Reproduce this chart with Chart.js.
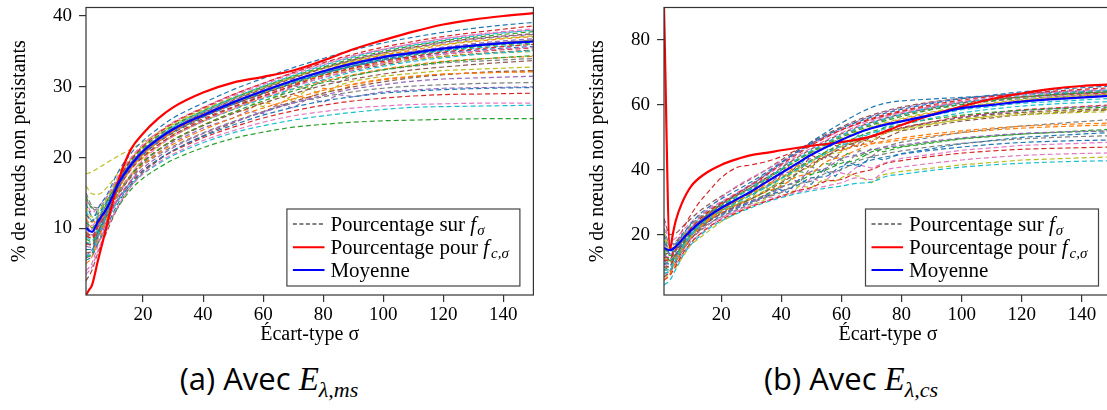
<!DOCTYPE html>
<html>
<head>
<meta charset="utf-8">
<script src="https://cdn.jsdelivr.net/npm/chart.js@4.4.1/dist/chart.umd.min.js"></script>
<style>
  html, body { margin: 0; padding: 0; background: #fff; width: 1107px; height: 410px; overflow: hidden; position: relative; }
  #wa { position: absolute; left: 0; top: 0; width: 560px; height: 350px; }
  #wb { position: absolute; left: 560px; top: 0; width: 580px; height: 350px; }
  .cap { position: absolute; top: 363px; font-family: "Open Sans", sans-serif; font-size: 31px; line-height: 31px; color: #000; white-space: nowrap; transform: translateX(-50%); }
  .cap i { font-family: "Liberation Serif", serif; font-size: 33px; }
  .cap sub { font-family: "Liberation Serif", serif; font-style: italic; font-size: 22px; vertical-align: -7px; }
</style>
</head>
<body>
<div id="wa"><canvas id="chartA"></canvas></div>
<div id="wb"><canvas id="chartB"></canvas></div>
<div class="cap" style="left:269px">(a) Avec <i>E</i><sub>λ,ms</sub></div>
<div class="cap" style="left:851px">(b) Avec <i>E</i><sub>λ,cs</sub></div>
<script>
// tab10 cycle used by the dashed runs
const palette = ['#1f77b4', '#ff7f0e', '#2ca02c', '#d62728', '#9467bd', '#8c564b', '#e377c2', '#7f7f7f', '#bcbd22', '#17becf'];

const xTicks = [20, 40, 60, 80, 100, 120, 140];
const yTicksA = [10, 20, 30, 40];
const yTicksB = [20, 40, 60, 80];

// ---- (a) E_lambda,ms ----
const xA = [1, 3, 5, 8, 12, 16, 20, 25, 30, 40, 50, 60, 70, 80, 90, 100, 110, 120, 135, 150];
const meanA = [10.1, 9.5, 11.0, 12.9, 16.5, 19.0, 20.9, 22.6, 24.0, 26.0, 27.8, 29.4, 30.9, 32.2, 33.3, 34.2, 34.8, 35.4, 36.0, 36.4];
const redXA = [1, 2, 3, 5, 8, 12, 16, 20, 25, 30, 40, 50, 60, 70, 80, 90, 100, 110, 120, 130, 140, 150];
const redA = [0.6, 1.3, 2.0, 5.5, 10.5, 17.0, 21.2, 23.4, 25.5, 27.1, 29.2, 30.6, 31.4, 32.3, 33.7, 35.3, 36.6, 37.8, 38.8, 39.5, 40.0, 40.4];
const dashedA = [
  [12.0, 11.0, 12.8, 14.8, 18.2, 20.6, 22.4, 24.1, 25.6, 27.7, 29.6, 31.2, 32.7, 34.0, 35.2, 36.2, 37.0, 37.7, 38.5, 39.1],
  [9.0, 8.6, 10.5, 13.0, 17.0, 19.7, 21.6, 23.4, 24.9, 27.0, 28.9, 30.5, 32.0, 33.4, 34.6, 35.6, 36.4, 37.1, 37.9, 38.6],
  [14.0, 12.2, 13.0, 14.6, 17.6, 20.0, 21.9, 23.6, 25.0, 27.1, 28.9, 30.5, 32.0, 33.3, 34.4, 35.3, 36.1, 36.8, 37.6, 38.2],
  [6.0, 6.6, 9.0, 12.0, 16.2, 19.0, 21.0, 22.8, 24.3, 26.5, 28.4, 30.1, 31.6, 33.0, 34.2, 35.2, 35.9, 36.6, 37.4, 38.0],
  [11.0, 10.1, 11.4, 13.5, 17.0, 19.6, 21.4, 23.1, 24.5, 26.6, 28.4, 30.0, 31.5, 32.8, 34.0, 35.0, 35.8, 36.5, 37.2, 37.8],
  [8.0, 7.6, 9.6, 12.3, 16.4, 19.1, 21.0, 22.7, 24.1, 26.3, 28.1, 29.7, 31.2, 32.6, 33.8, 34.8, 35.6, 36.3, 37.0, 37.5],
  [13.0, 11.6, 12.3, 14.2, 17.3, 19.8, 21.6, 23.2, 24.6, 26.6, 28.3, 29.9, 31.3, 32.6, 33.7, 34.6, 35.4, 36.0, 36.7, 37.2],
  [5.0, 6.0, 8.4, 11.4, 15.6, 18.4, 20.4, 22.2, 23.7, 25.9, 27.8, 29.4, 30.9, 32.3, 33.5, 34.5, 35.2, 35.9, 36.6, 37.1],
  [10.0, 9.1, 10.4, 12.6, 16.2, 18.8, 20.7, 22.4, 23.9, 26.0, 27.8, 29.4, 30.9, 32.2, 33.4, 34.3, 35.0, 35.6, 36.3, 36.8],
  [15.0, 13.2, 12.9, 14.4, 17.2, 19.5, 21.2, 22.8, 24.2, 26.2, 27.9, 29.5, 30.9, 32.1, 33.2, 34.1, 34.8, 35.4, 36.1, 36.6],
  [7.0, 7.1, 9.2, 12.0, 15.9, 18.6, 20.5, 22.2, 23.6, 25.7, 27.5, 29.1, 30.5, 31.9, 33.0, 33.9, 34.6, 35.2, 35.9, 36.4],
  [9.5, 8.9, 10.2, 12.4, 15.8, 18.3, 20.1, 21.8, 23.2, 25.3, 27.1, 28.7, 30.2, 31.6, 32.7, 33.6, 34.3, 34.9, 35.5, 36.0],
  [4.0, 5.1, 7.6, 10.8, 14.9, 17.7, 19.7, 21.5, 23.0, 25.1, 26.9, 28.5, 30.0, 31.3, 32.4, 33.3, 34.0, 34.6, 35.2, 35.6],
  [12.5, 11.1, 11.8, 13.5, 16.4, 18.6, 20.2, 21.8, 23.1, 25.1, 26.8, 28.3, 29.7, 31.0, 32.1, 32.9, 33.6, 34.1, 34.7, 35.1],
  [8.5, 8.1, 9.6, 11.9, 15.2, 17.6, 19.4, 21.1, 22.5, 24.6, 26.4, 28.0, 29.4, 30.6, 31.6, 32.4, 33.0, 33.5, 34.0, 34.4],
  [6.5, 6.9, 8.8, 11.3, 14.8, 17.4, 19.3, 21.0, 22.4, 24.5, 26.2, 27.7, 29.0, 30.2, 31.1, 31.8, 32.4, 32.8, 33.3, 33.7],
  [17.7, 18.0, 18.5, 19.3, 20.3, 21.2, 22.2, 23.5, 24.8, 26.8, 28.5, 30.0, 31.4, 32.6, 33.6, 34.4, 35.0, 35.5, 36.0, 36.4],
  [11.5, 10.1, 10.8, 12.4, 15.2, 17.4, 19.0, 20.6, 21.9, 23.9, 25.6, 27.0, 28.3, 29.5, 30.4, 31.1, 31.5, 31.8, 32.0, 32.1],
  [7.5, 7.3, 8.8, 11.1, 14.4, 16.8, 18.5, 20.1, 21.4, 23.4, 25.0, 26.4, 27.7, 28.8, 29.7, 30.3, 30.8, 31.1, 31.3, 31.5],
  [10.5, 9.6, 10.4, 12.2, 15.0, 17.2, 18.9, 20.4, 21.6, 23.5, 25.1, 26.5, 27.7, 28.6, 29.3, 29.8, 30.1, 30.3, 30.5, 30.6],
  [5.5, 6.1, 7.9, 10.4, 13.8, 16.3, 18.1, 19.7, 21.0, 23.0, 24.6, 26.0, 27.1, 28.0, 28.6, 29.1, 29.4, 29.6, 29.8, 29.9],
  [9.0, 8.6, 9.6, 11.6, 14.4, 16.6, 18.2, 19.7, 20.9, 22.8, 24.3, 25.6, 26.6, 27.4, 28.0, 28.4, 28.7, 28.9, 29.0, 29.1],
  [3.5, 4.6, 6.9, 9.9, 13.4, 15.9, 17.7, 19.3, 20.5, 22.4, 23.8, 25.0, 25.9, 26.5, 27.0, 27.3, 27.5, 27.6, 27.7, 27.7],
  [8.0, 7.9, 9.2, 11.2, 14.1, 16.2, 17.7, 19.1, 20.3, 22.1, 23.5, 24.5, 25.3, 25.9, 26.4, 26.8, 27.1, 27.2, 27.3, 27.4],
  [6.0, 6.3, 7.9, 10.2, 13.2, 15.5, 17.1, 18.5, 19.7, 21.4, 22.7, 23.6, 24.3, 24.7, 25.0, 25.2, 25.3, 25.4, 25.5, 25.5],
  [2.6, 4.1, 6.6, 9.6, 13.3, 16.0, 17.9, 19.6, 21.0, 23.1, 24.9, 26.5, 27.9, 29.1, 30.0, 30.7, 31.3, 31.7, 32.1, 32.3],
  [16.0, 14.9, 14.8, 15.8, 18.0, 19.9, 21.3, 22.7, 24.0, 26.0, 27.7, 29.2, 30.5, 31.6, 32.5, 33.3, 33.9, 34.3, 34.7, 35.0],
  [12.0, 10.9, 11.6, 13.3, 16.2, 18.5, 20.1, 21.7, 23.0, 25.1, 26.8, 28.4, 29.7, 30.8, 31.7, 32.5, 33.1, 33.6, 34.0, 34.3],
  [10.8, 9.9, 11.2, 13.1, 16.7, 19.3, 21.2, 22.9, 24.4, 26.4, 28.2, 29.8, 31.3, 32.7, 33.8, 34.8, 35.5, 36.2, 36.9, 37.4],
  [9.2, 8.9, 10.7, 12.8, 16.3, 18.9, 20.8, 22.5, 23.9, 26.0, 27.7, 29.3, 30.8, 32.1, 33.2, 34.1, 34.8, 35.4, 36.1, 36.6],
  [13.5, 11.8, 12.1, 13.8, 16.9, 19.3, 21.0, 22.6, 24.0, 26.1, 27.8, 29.3, 30.7, 31.9, 32.9, 33.7, 34.3, 34.8, 35.3, 35.7],
  [7.8, 7.7, 9.4, 12.1, 16.0, 18.7, 20.7, 22.4, 23.8, 25.8, 27.5, 29.0, 30.4, 31.6, 32.6, 33.4, 34.1, 34.6, 35.1, 35.5],
  [11.3, 10.4, 11.6, 13.6, 17.1, 19.8, 21.7, 23.4, 24.8, 26.9, 28.7, 30.3, 31.8, 33.1, 34.3, 35.3, 36.1, 36.8, 37.5, 38.0],
  [8.8, 8.3, 10.0, 12.5, 16.1, 18.8, 20.6, 22.3, 23.7, 25.8, 27.6, 29.2, 30.6, 31.9, 33.0, 33.9, 34.6, 35.1, 35.6, 36.0],
  [14.5, 12.8, 12.6, 14.0, 16.9, 19.2, 20.9, 22.5, 23.9, 25.9, 27.6, 29.1, 30.5, 31.8, 32.9, 33.8, 34.5, 35.1, 35.8, 36.2],
  [5.8, 6.5, 8.9, 11.8, 15.8, 18.5, 20.4, 22.1, 23.5, 25.5, 27.2, 28.7, 30.1, 31.3, 32.3, 33.1, 33.8, 34.3, 34.8, 35.2]
];
// noisier runs in the middle of (a)
const xAJ = [1, 5, 10, 20, 30, 40, 50, 55, 60, 65, 70, 75, 80, 85, 90, 100, 120, 150];
const jaggedA = [
  [9, 9.5, 14, 20, 23.3, 25.2, 26.8, 27.8, 27.2, 28.8, 28.0, 29.8, 28.8, 30.2, 30.8, 31.5, 32.3, 32.8],
  [12, 10.5, 14.5, 19.6, 22.6, 24.6, 26.4, 26.8, 27.8, 27.4, 28.9, 28.3, 29.8, 29.4, 30.3, 31.0, 31.8, 32.2],
  [6, 8, 13, 19.2, 22.2, 24.2, 25.6, 26.6, 26.2, 27.6, 27.0, 28.4, 27.8, 28.9, 28.6, 29.3, 29.8, 30.0],
  [14, 12, 15.5, 20.6, 23.8, 25.8, 27.6, 28.0, 29.0, 28.6, 30.2, 29.6, 31.0, 30.6, 31.6, 32.4, 33.4, 34.0]
];

// ---- (b) E_lambda,cs ----
const xB = [1, 3, 5, 8, 12, 16, 20, 25, 30, 35, 40, 45, 50, 55, 60, 65, 70, 75, 80, 90, 100, 110, 120, 135, 150];
const meanB = [15.9, 15.2, 16.4, 19.5, 23.0, 25.8, 28.2, 30.8, 33.3, 36.2, 39.0, 41.8, 44.6, 47.0, 49.2, 51.2, 52.8, 54.0, 54.9, 56.9, 59.0, 60.0, 61.0, 62.0, 62.8];
const redXB = [1, 3, 4, 5, 7, 10, 15, 20, 25, 30, 35, 40, 50, 60, 70, 80, 90, 100, 110, 120, 130, 140, 150];
const redB = [90, 15.6, 20.5, 24.6, 29.8, 34.9, 39.0, 41.5, 43.2, 44.5, 45.2, 46.0, 47.4, 48.5, 50.3, 53.8, 56.9, 59.5, 61.8, 63.5, 64.9, 65.8, 66.3];
const dashedB = [
  [20, 14, 17, 21, 25.5, 28.6, 31.0, 33.6, 36.2, 39.2, 42.3, 45.3, 48.1, 50.6, 52.8, 54.6, 56.2, 57.5, 58.6, 60.4, 61.9, 63.0, 64.0, 65.0, 65.8],
  [12, 12.5, 15.5, 19.8, 24, 27.2, 29.7, 32.5, 35.3, 38.4, 41.6, 44.6, 47.5, 50.0, 52.3, 54.2, 55.8, 57.1, 58.2, 60.0, 61.5, 62.6, 63.5, 64.5, 65.3],
  [24, 18, 19, 22, 25.4, 28.0, 30.2, 32.8, 35.4, 38.3, 41.2, 44.0, 46.7, 49.2, 51.4, 53.3, 55.0, 56.4, 57.6, 59.5, 61.0, 62.2, 63.1, 64.1, 64.8],
  [8, 9, 12.5, 17.5, 22.3, 25.8, 28.6, 31.5, 34.3, 37.2, 40.2, 43.1, 45.9, 48.4, 50.7, 52.7, 54.4, 55.9, 57.1, 59.1, 60.7, 61.9, 62.9, 63.9, 64.6],
  [16, 13.5, 15.5, 19.2, 23.2, 26.4, 28.9, 31.6, 34.2, 37.0, 39.9, 42.7, 45.4, 47.8, 50.0, 52.0, 53.7, 55.2, 56.4, 58.5, 60.1, 61.3, 62.3, 63.4, 64.1],
  [10, 10.5, 13.8, 18.4, 23.0, 26.5, 29.2, 32.0, 34.6, 37.5, 40.6, 43.6, 46.4, 48.9, 51.1, 53.0, 54.6, 56.0, 57.2, 59.0, 60.5, 61.6, 62.5, 63.4, 64.0],
  [19, 15.5, 16.8, 20.2, 24.0, 27.0, 29.3, 31.9, 34.4, 37.1, 39.9, 42.7, 45.3, 47.6, 49.7, 51.6, 53.2, 54.6, 55.8, 57.8, 59.4, 60.6, 61.6, 62.6, 63.3],
  [6, 8, 11.5, 16.6, 21.4, 24.9, 27.6, 30.4, 33.1, 36.0, 38.9, 41.8, 44.5, 47.0, 49.2, 51.1, 52.8, 54.3, 55.5, 57.5, 59.1, 60.3, 61.3, 62.3, 63.0],
  [14, 12.5, 15, 19.0, 23.4, 26.8, 29.5, 32.6, 35.6, 38.8, 42.0, 45.0, 47.9, 50.5, 52.8, 54.8, 56.5, 57.9, 59.0, 60.7, 61.9, 62.8, 63.5, 64.2, 64.7],
  [22, 17, 18, 21.2, 24.8, 27.6, 29.8, 32.2, 34.6, 37.3, 40.2, 43.0, 45.7, 48.2, 50.4, 52.4, 54.1, 55.6, 56.8, 58.7, 60.1, 61.1, 61.9, 62.7, 63.2],
  [11, 11, 14, 18.5, 23.2, 26.7, 29.4, 32.4, 35.3, 38.6, 42.0, 45.4, 48.6, 51.6, 54.4, 57.0, 59.2, 60.6, 61.2, 61.8, 62.3, 62.8, 63.2, 63.6, 64.0],
  [13, 13, 17, 23, 29, 33.5, 37.5, 40.6, 41.5, 42.5, 44.0, 46.0, 48.2, 50.3, 52.3, 54.0, 55.5, 56.8, 57.9, 59.6, 60.9, 61.8, 62.5, 63.2, 63.7],
  [17, 14, 15.8, 19.8, 24.4, 28.2, 31.4, 34.8, 37.5, 40.0, 42.6, 45.2, 47.7, 50.0, 52.1, 53.9, 55.4, 56.7, 57.7, 59.4, 60.7, 61.6, 62.3, 63.0, 63.5],
  [9, 9.5, 12.5, 17.2, 21.8, 25.0, 27.4, 29.8, 32.2, 34.6, 37.2, 39.9, 42.6, 45.1, 47.4, 49.4, 51.2, 52.7, 53.9, 55.9, 57.5, 58.7, 59.6, 60.5, 61.0],
  [15, 12, 14, 17.8, 22.0, 25.2, 27.6, 30.0, 32.3, 34.7, 37.4, 40.2, 43.0, 45.6, 48.0, 50.0, 51.7, 53.0, 54.0, 55.6, 56.8, 57.7, 58.3, 58.9, 59.3],
  [7, 8.5, 11.5, 16.2, 20.8, 24.0, 26.5, 28.8, 31.0, 33.4, 36.0, 38.8, 41.6, 44.2, 46.6, 48.6, 50.3, 51.7, 52.8, 54.6, 56.0, 57.0, 57.7, 58.4, 58.8],
  [21, 16, 16.5, 19.5, 23.2, 26.1, 28.2, 30.4, 32.5, 34.8, 37.4, 40.0, 42.6, 45.0, 47.1, 48.9, 50.4, 51.6, 52.6, 54.2, 55.4, 56.3, 56.9, 57.5, 57.9],
  [10, 10, 13, 17.5, 21.5, 24.6, 26.8, 29.0, 31.0, 33.2, 35.0, 37.8, 39.0, 42.5, 44.0, 46.0, 48.0, 49.0, 49.8, 51.0, 52.0, 52.8, 53.4, 54.0, 54.4],
  [12, 11, 13.5, 17.6, 21.4, 24.2, 26.3, 28.4, 30.3, 32.0, 34.5, 36.5, 39.5, 40.5, 43.5, 44.5, 46.2, 47.0, 47.6, 48.8, 49.8, 50.6, 51.2, 51.7, 52.0],
  [8, 9, 12, 16.8, 20.6, 23.4, 25.5, 27.6, 29.6, 31.5, 33.0, 35.5, 36.5, 39.0, 40.0, 42.5, 44.0, 45.0, 45.8, 47.1, 48.1, 48.9, 49.5, 50.1, 50.5],
  [18, 14, 15.5, 18.6, 22.0, 24.6, 26.4, 28.4, 30.2, 31.8, 33.5, 35.0, 37.5, 38.0, 41.0, 41.5, 43.0, 44.0, 44.8, 46.0, 47.0, 47.8, 48.4, 48.9, 49.2],
  [6, 7.5, 10.5, 15.2, 19.4, 22.4, 24.6, 26.7, 28.6, 30.3, 31.8, 33.5, 34.5, 36.5, 37.0, 39.0, 40.0, 42.0, 42.8, 44.1, 45.1, 45.8, 46.3, 46.7, 47.0],
  [11, 10, 12.5, 16.6, 20.4, 23.2, 25.2, 27.1, 28.9, 30.4, 31.8, 33.0, 34.0, 35.0, 36.0, 37.5, 37.0, 40.0, 40.8, 42.0, 43.0, 43.8, 44.4, 44.9, 45.2],
  [4.5, 6, 9.5, 14.6, 18.8, 21.9, 24.2, 26.4, 28.3, 30.0, 31.4, 32.6, 33.5, 34.3, 35.0, 35.8, 36.2, 38.0, 38.6, 39.8, 40.8, 41.5, 42.0, 42.5, 42.8],
  [14, 12, 14, 17.8, 21.6, 24.4, 26.4, 28.5, 30.4, 32.4, 34.8, 36.0, 38.5, 40.0, 42.0, 43.0, 45.5, 46.5, 47.2, 48.5, 49.6, 50.4, 51.0, 51.6, 52.0],
  [25, 20, 20.5, 23.2, 26.6, 29.4, 31.8, 34.6, 37.2, 40.0, 43.0, 45.8, 48.5, 51.0, 53.2, 55.2, 56.8, 58.2, 59.3, 60.9, 62.0, 62.8, 63.4, 64.0, 64.4],
  [9, 9.5, 12.8, 17.6, 22.0, 25.1, 27.3, 29.5, 31.4, 33.8, 36.5, 39.5, 41.0, 44.5, 45.5, 48.5, 49.0, 51.5, 52.2, 54.0, 55.5, 56.6, 57.4, 58.1, 58.6],
  [13, 11.5, 13.8, 17.9, 22.2, 25.4, 27.8, 30.2, 32.5, 35.5, 37.5, 41.0, 42.0, 45.5, 46.0, 47.5, 48.0, 48.5, 49.2, 50.4, 51.4, 52.2, 52.8, 53.4, 53.8],
  [20, 16.5, 17.4, 20.3, 23.7, 26.4, 28.4, 30.7, 33.0, 35.0, 38.5, 40.0, 43.5, 44.0, 47.5, 48.0, 50.5, 51.5, 52.8, 54.6, 56.1, 57.3, 58.2, 59.1, 59.7]
];
// noisier runs in the middle of (b)
const xBJ = [1, 5, 10, 20, 30, 34, 38, 42, 46, 50, 54, 58, 62, 66, 70, 74, 80, 100, 120, 150];
const jaggedB = [
  [12, 14, 20, 27, 31.5, 35, 33, 38, 36, 41, 39, 44, 42, 46, 44, 47, 48.5, 51.5, 53.5, 55.5],
  [9, 12, 19, 26, 30, 31.5, 34.5, 33, 37, 35.5, 40, 38, 42.5, 41, 44, 43, 45, 48, 50, 51.5],
  [15, 16, 22, 29, 33, 37.5, 36, 41, 39.5, 44.5, 43, 47.5, 46, 49.5, 48.5, 51, 53, 56.5, 58.5, 60],
  [7, 11, 18, 25, 29.5, 32, 31, 34.5, 33.5, 37.5, 36, 39.5, 38.5, 41.5, 40.5, 42, 43.5, 46, 47.5, 48.5],
  [18, 17, 23, 30, 34, 38.5, 37.5, 42.5, 41, 46, 44.5, 49, 47.5, 51, 50, 53, 55, 58.5, 60.5, 62],
  [11, 13, 20, 27.5, 31, 33, 35.5, 36, 39.5, 38.5, 42, 41.5, 45, 44, 46.5, 45.5, 47, 49.5, 51, 52.5],
  [14, 15, 21, 28, 32.5, 36, 39, 38, 42, 40.5, 45, 43.5, 48, 47, 50.5, 49.5, 52, 55, 57, 58.5],
  [6, 10, 17, 24, 29, 30.5, 33, 32, 35, 34.5, 37, 36.5, 38.5, 38, 36, 38.5, 39.5, 41.5, 43, 44]
];

Chart.defaults.font.family = '"Liberation Serif", "Times New Roman", serif';
Chart.defaults.font.size = 19;
Chart.defaults.color = '#000';

function pts(xs, ys) {
  return xs.map((x, i) => ({ x: x, y: ys[i] }));
}

// text run with italic math pieces, drawn left to right
function drawRuns(ctx, x, y, runs) {
  runs.forEach(r => {
    ctx.font = r.font;
    x += r.dx || 0;
    ctx.fillText(r.t, x, y + (r.dy || 0));
    x += ctx.measureText(r.t).width;
  });
}

const rm = '21px "Liberation Serif"';
const it = 'italic 21px "Liberation Serif"';
const sub = 'italic 15px "Liberation Serif"';

const frameAndLegend = {
  id: 'frameAndLegend',
  afterDatasetsDraw(chart) {
    const { ctx, chartArea: a } = chart;
    ctx.save();
    ctx.strokeStyle = '#333';
    ctx.lineWidth = 1.2;
    ctx.setLineDash([]);
    ctx.strokeRect(a.left, a.top, a.right - a.left, a.bottom - a.top);

    const w = 233, h = 77;
    const x0 = a.right - 13.5 - w, y0 = a.bottom - 9 - h;
    ctx.fillStyle = '#fff';
    ctx.fillRect(x0, y0, w, h);
    ctx.strokeStyle = '#444';
    ctx.strokeRect(x0, y0, w, h);

    const rows = [
      { color: '#000', dash: [4, 2.5], width: 1.2, runs: [{ t: 'Pourcentage sur ', font: rm }, { t: 'f', font: it }, { t: 'σ', font: sub, dy: 4, dx: 1 }] },
      { color: '#ff0000', dash: [], width: 2, runs: [{ t: 'Pourcentage pour ', font: rm }, { t: 'f', font: it }, { t: 'c,σ', font: sub, dy: 4, dx: 2 }] },
      { color: '#0000ff', dash: [], width: 2, runs: [{ t: 'Moyenne', font: rm }] }
    ];
    const rowY = [15, 38.3, 61];
    ctx.textBaseline = 'alphabetic';
    ctx.fillStyle = '#000';
    rows.forEach((r, i) => {
      const y = y0 + rowY[i];
      ctx.strokeStyle = r.color;
      ctx.lineWidth = r.width;
      ctx.setLineDash(r.dash);
      ctx.beginPath();
      ctx.moveTo(x0 + 6, y);
      ctx.lineTo(x0 + 37.6, y);
      ctx.stroke();
      ctx.setLineDash([]);
      drawRuns(ctx, x0 + 43.5, y + 7, r.runs);
    });
    ctx.restore();
  }
};

function buildChart(id, cfg) {
  const sets = [];
  sets.push({ data: pts(cfg.xs, cfg.mean), borderColor: '#0000ff', borderWidth: 2.2 });
  sets.push({ data: pts(cfg.redX, cfg.red), borderColor: '#ff0000', borderWidth: 2.2 });
  const runs = cfg.dashed.map(r => pts(cfg.xs, r)).concat(cfg.jagged.map(r => pts(cfg.jx, r)));
  runs.forEach((run, i) => {
    const jag = i >= cfg.dashed.length;
    sets.push({ data: run, borderColor: palette[(i * 3) % 10], borderWidth: 1.2, borderDash: [5, 3],
      cubicInterpolationMode: jag ? 'default' : 'monotone', tension: 0 });
  });
  sets.forEach(s => {
    s.pointRadius = 0;
    s.fill = false;
    if (!s.borderDash) s.cubicInterpolationMode = 'monotone';
  });

  const grid = { drawOnChartArea: false, drawTicks: true, tickLength: 7, color: '#333', lineWidth: 1.2 };

  return new Chart(document.getElementById(id), {
    type: 'line',
    data: { datasets: sets },
    options: {
      responsive: true,
      maintainAspectRatio: false,
      animation: false,
      layout: { padding: { top: 7.5, right: cfg.padRight, left: 0, bottom: 0 } },
      plugins: { legend: { display: false }, tooltip: { enabled: false } },
      scales: {
        x: {
          type: 'linear', min: 1, max: 150,
          afterBuildTicks: s => { s.ticks = xTicks.map(v => ({ value: v })); },
          afterFit: s => { s.height = 55; s.paddingLeft = 0; s.paddingRight = 0; },
          ticks: { callback: v => String(v), padding: 2, maxRotation: 0, autoSkip: false },
          grid: grid,
          border: { display: false },
          title: { display: true, text: 'Écart-type σ', font: { size: 20 }, padding: { top: 0, bottom: 3 } }
        },
        y: {
          type: 'linear', min: cfg.yMin, max: cfg.yMax,
          afterBuildTicks: s => { s.ticks = cfg.yTicks.map(v => ({ value: v })); },
          afterFit: s => { s.width = cfg.yWidth; s.paddingTop = 0; s.paddingBottom = 0; },
          ticks: { callback: v => String(v), padding: 7 },
          grid: grid,
          border: { display: false },
          title: { display: true, text: '% de nœuds non persistants', font: { size: 20 }, padding: { top: cfg.titlePad, bottom: 0 } }
        }
      }
    },
    plugins: [frameAndLegend]
  });
}

buildChart('chartA', { xs: xA, mean: meanA, redX: redXA, red: redA, dashed: dashedA, jx: xAJ, jagged: jaggedA,
  yMin: 0.6, yMax: 41.2, yTicks: yTicksA, yWidth: 86, padRight: 26.6, titlePad: 8 });
buildChart('chartB', { xs: xB, mean: meanB, redX: redXB, red: redB, dashed: dashedB, jx: xBJ, jagged: jaggedB,
  yMin: 1.4, yMax: 90, yTicks: yTicksB, yWidth: 104, padRight: 28, titlePad: 26 });
</script>
</body>
</html>
